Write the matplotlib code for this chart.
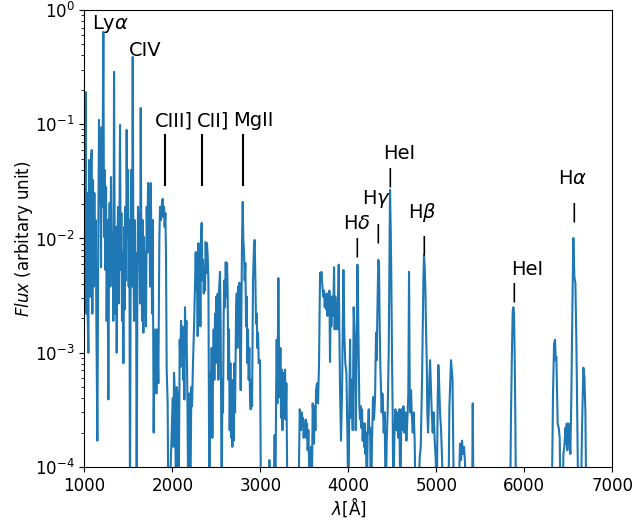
"""
plot.py

Emission-line spectrum on a log flux axis, with the main lines marked.
"""
import numpy as np
import matplotlib
matplotlib.use("Agg")
import matplotlib.pyplot as plt

# --- spectrum, split by wavelength range (Angstrom) ---
# 4e-5 marks points that drop below the bottom of the plot
wave_1 = [1000, 1008, 1016, 1023, 1031, 1038, 1046, 1053, 1061, 1069,
          1076, 1084, 1091, 1099, 1106, 1114, 1122, 1129, 1137, 1148,
          1159, 1167, 1175, 1182, 1190, 1197, 1205, 1216, 1224, 1231,
          1239, 1247, 1254, 1262, 1273, 1281, 1288, 1296, 1303, 1311,
          1319, 1330, 1338, 1345, 1353, 1360, 1368, 1375, 1383, 1391,
          1398, 1406, 1413, 1421, 1428, 1436, 1444, 1451, 1459, 1466,
          1474, 1481, 1489, 1497, 1504, 1512, 1519, 1527, 1534, 1542,
          1550, 1557, 1565, 1572, 1580, 1588, 1595, 1603, 1610, 1618,
          1625, 1633, 1641, 1648, 1656, 1663, 1671, 1678, 1686, 1694,
          1701, 1709, 1716, 1724, 1731, 1739, 1747, 1754, 1762, 1769,
          1777, 1788, 1796, 1807, 1819, 1830, 1841, 1853, 1860, 1872,
          1883, 1891, 1898, 1906, 1913, 1921, 1928, 1936, 1947, 1955,
          1966]
flux_1 = [0.0145, 0.0024, 0.191, 0.0022, 0.025, 0.0022, 0.0010, 0.0486, 0.0075, 0.0031,
          0.0486, 0.0595, 0.0022, 0.0325, 0.0038, 0.025, 0.005, 0.0145, 0.0019, 1.7e-4,
          0.0112, 0.109, 0.0205, 0.0773, 0.0056, 0.0946, 0.0189, 0.642, 0.0103, 0.0398,
          0.0053, 0.0282, 0.0019, 0.0145, 3.9e-4, 0.0075, 0.0205, 0.0038, 0.0345, 0.0053,
          0.0112, 0.0019, 0.287, 0.0075, 0.0022, 0.0126, 0.0010, 0.0075, 0.0189, 0.0027,
          0.0103, 0.0985, 0.0053, 0.0167, 0.0019, 0.0075, 8.1e-4, 0.0126, 0.0024, 0.0189,
          0.0043, 0.0891, 0.0103, 0.0398, 0.0038, 0.0145, 4e-5, 0.0075, 0.0398, 0.0038,
          0.388, 0.0103, 0.0019, 0.0145, 0.0027, 0.0075, 4e-5, 0.0038, 0.0189, 0.0075,
          0.0167, 0.0027, 0.139, 0.0075, 0.0019, 0.0145, 0.0015, 0.0103, 0.0027, 0.0075,
          0.0017, 0.0189, 0.0075, 0.0306, 0.0126, 0.0282, 0.0038, 0.0306, 0.0103, 0.0022,
          0.0145, 2.0e-4, 0.0010, 0.0016, 4.4e-4, 0.0016, 5.4e-4, 0.0103, 0.0189, 0.0145,
          0.0209, 0.0222, 0.0154, 0.0189, 0.0126, 0.0167, 0.0075, 7.1e-4, 3.6e-4, 4e-5,
          4e-5]

wave_2 = [2004, 2012, 2019, 2031, 2042, 2050, 2061, 2072, 2084, 2091,
          2099, 2107, 2114, 2122, 2129, 2137, 2144, 2152, 2160, 2171,
          2182, 2194, 2205, 2216, 2224, 2235, 2247, 2258, 2266, 2273,
          2281, 2288, 2296, 2304, 2311, 2319, 2326, 2334, 2341, 2349,
          2357, 2364, 2372, 2379, 2387, 2394, 2402, 2410, 2421, 2432,
          2440, 2447, 2455, 2463, 2470, 2478, 2485, 2493, 2500, 2508,
          2516, 2523, 2531, 2542, 2550, 2561, 2569, 2576, 2584, 2591,
          2599, 2607, 2614, 2622, 2629, 2637, 2644, 2652, 2660, 2667,
          2675, 2682, 2690, 2697, 2705, 2713, 2724, 2732, 2739, 2747,
          2754, 2762, 2769, 2777, 2785, 2792, 2800, 2807, 2815, 2822,
          2830, 2838, 2845, 2853, 2860, 2868, 2875, 2883, 2891, 2898,
          2906, 2917, 2928, 2936, 2944, 2951, 2959, 2966, 2974, 2982,
          2989, 2997]
flux_2 = [4.0e-4, 1.5e-4, 6.7e-4, 4.1e-4, 4e-5, 5.0e-4, 4.1e-4, 4e-5, 0.0013, 7.5e-4,
          0.0019, 0.0010, 0.0017, 5.8e-4, 0.0014, 3.9e-4, 0.0025, 0.0011, 0.0019, 4.4e-4,
          4e-5, 4.4e-4, 4e-5, 5.0e-4, 3.4e-4, 8.1e-4, 0.0017, 0.0043, 0.0076, 0.0035,
          0.0056, 0.0014, 0.0091, 0.0031, 0.0075, 0.0017, 0.0112, 0.0137, 0.0043, 0.0065,
          0.0033, 0.0053, 0.0035, 0.0093, 0.0050, 0.0091, 0.0069, 0.0043, 4e-5, 6.7e-4,
          3.0e-4, 0.0011, 1.8e-4, 7.5e-4, 0.0016, 5.8e-4, 0.0022, 8.1e-4, 0.0031, 0.0016,
          0.0033, 5.8e-4, 0.0035, 0.0051, 0.0016, 4e-5, 5.8e-4, 3.0e-4, 0.0022, 0.0043,
          0.0025, 0.0062, 0.0031, 0.0061, 0.0033, 5.8e-4, 0.0016, 2.1e-4, 8.1e-4, 1.8e-4,
          5.8e-4, 1.5e-4, 4.1e-4, 1.7e-4, 8.1e-4, 3.0e-4, 0.0022, 0.0033, 0.0011, 0.0038,
          0.0022, 0.0041, 0.0011, 4.7e-4, 0.0022, 0.0091, 0.0209, 0.0097, 0.0075, 0.0043,
          0.0061, 0.0017, 0.0031, 8.1e-4, 0.0016, 5.8e-4, 0.0011, 4.1e-4, 3.2e-4, 5.8e-4,
          3.4e-4, 0.0043, 0.0084, 0.0097, 0.0043, 0.0018, 0.0022, 0.0011, 0.0015, 8.1e-4,
          8.6e-4, 8.6e-4]

wave_3 = [3008, 3091, 3103, 3114, 3152, 3163, 3171, 3179, 3186, 3194,
          3205, 3213, 3220, 3228, 3235, 3243, 3251, 3258, 3266, 3273,
          3281, 3288, 3296, 3304, 3315, 3432, 3440, 3448, 3455, 3463,
          3470, 3478, 3485, 3493, 3501, 3508, 3516, 3523, 3531, 3538,
          3546, 3554, 3565, 3576, 3584, 3595, 3603, 3610, 3618, 3626,
          3633, 3644, 3656, 3667, 3679, 3686, 3694, 3701, 3709, 3716,
          3724, 3732, 3739, 3747, 3754, 3762, 3770, 3777, 3785, 3792,
          3800, 3807, 3815, 3823, 3830, 3838, 3845, 3853, 3860, 3868,
          3876, 3883, 3891, 3898, 3906, 3917, 3929, 3944, 3955, 3966,
          3978, 3989, 4001, 4012, 4020, 4027, 4038, 4050, 4061, 4073,
          4084, 4095]
flux_3 = [4e-5, 4e-5, 1.15e-4, 4e-5, 4e-5, 1.9e-4, 4e-5, 4.1e-4, 0.0013, 3.6e-4,
          0.0045, 9.2e-4, 4.1e-4, 0.0011, 2.7e-4, 7.1e-4, 2.1e-4, 4.1e-4, 6.7e-4, 2.7e-4,
          7.1e-4, 2.6e-4, 5.4e-4, 1.1e-4, 4e-5, 4e-5, 1.1e-4, 3.2e-4, 2.7e-4, 2.1e-4,
          3.0e-4, 2.4e-4, 2.7e-4, 1.8e-4, 2.4e-4, 2.1e-4, 2.6e-4, 1.8e-4, 2.4e-4, 1.4e-4,
          2.1e-4, 1.1e-4, 4e-5, 1.5e-4, 4e-5, 3.6e-4, 2.7e-4, 1.6e-4, 3.4e-4, 2.1e-4,
          4.7e-4, 5.4e-4, 3.6e-4, 8.1e-4, 0.0050, 0.0043, 0.0051, 0.0043, 0.0035, 0.0031,
          0.0035, 0.0025, 0.0031, 0.0024, 0.0033, 0.0021, 0.0031, 0.0024, 0.0035, 8.3e-4,
          0.0031, 0.0017, 0.0031, 0.0021, 0.0025, 0.0056, 0.0016, 0.0031, 0.0018, 0.0024,
          0.0016, 0.0031, 0.0059, 0.0016, 4.7e-4, 1.7e-4, 4.7e-4, 0.0053, 0.0014, 8.1e-4,
          6.7e-4, 2.1e-4, 4e-5, 4.1e-4, 0.0013, 2.7e-4, 5.8e-4, 2.1e-4, 0.0025, 0.0013,
          2.1e-4, 0.0012]

wave_4 = [4103, 4110, 4118, 4125, 4133, 4141, 4148, 4156, 4163, 4171,
          4179, 4186, 4194, 4201, 4209, 4220, 4232, 4239, 4247, 4258,
          4269, 4281, 4292, 4304, 4315, 4322, 4330, 4341, 4349, 4357,
          4364, 4372, 4379, 4387, 4394, 4402, 4413, 4425, 4436, 4447,
          4459, 4466, 4474, 4482, 4489, 4497, 4504, 4512, 4523, 4535,
          4546, 4557, 4569, 4580, 4591, 4603, 4614, 4626, 4637, 4648,
          4660, 4671, 4682, 4690, 4698, 4705, 4713, 4720, 4732, 4743,
          4754, 4766, 4796, 4811, 4823, 4838, 4845, 4853, 4860, 4868,
          4876, 4883, 4891, 4898, 4906, 4913, 4921, 4929, 4936, 4948,
          4959, 4970, 4982, 4993, 5004, 5016, 5023, 5031, 5042, 5054,
          5065, 5080, 5137, 5148, 5167, 5184, 5201, 5246, 5270, 5281,
          5292, 5304, 5315, 5326, 5338, 5406, 5414, 5423]
flux_4 = [0.0059, 0.0031, 0.0010, 3.4e-4, 2.6e-4, 3.4e-4, 2.2e-4, 3.2e-4, 1.7e-4, 2.4e-4,
          1.5e-4, 2.4e-4, 1.3e-4, 2.0e-4, 4e-5, 2.0e-4, 3.2e-4, 2.0e-4, 2.2e-4, 4e-5,
          1.7e-4, 4.1e-4, 2.6e-4, 4.1e-4, 0.0015, 8.6e-4, 0.0022, 0.0065, 0.0056, 0.0016,
          7.5e-4, 4.4e-4, 3.0e-4, 4.4e-4, 3.4e-4, 2.0e-4, 3.0e-4, 4e-5, 1.7e-4, 3.0e-4,
          0.0010, 0.0043, 0.0266, 0.0119, 0.0041, 8.6e-4, 3.0e-4, 4e-5, 1.8e-4, 3.2e-4,
          2.1e-4, 3.0e-4, 1.8e-4, 3.2e-4, 4e-5, 3.2e-4, 2.1e-4, 3.4e-4, 2.0e-4, 3.0e-4,
          1.7e-4, 2.6e-4, 4.4e-4, 0.0051, 4.4e-4, 3.0e-4, 4.7e-4, 3.0e-4, 2.0e-4, 3.0e-4,
          1.7e-4, 4e-5, 4e-5, 1.2e-4, 1.5e-4, 5.8e-4, 0.0016, 0.0043, 0.0072, 0.0056,
          0.0035, 0.0016, 8.6e-4, 3.0e-4, 2.0e-4, 3.0e-4, 5.8e-4, 8.6e-4, 5.8e-4, 3.0e-4,
          2.0e-4, 3.0e-4, 1.7e-4, 1.2e-4, 4e-5, 4.1e-4, 7.8e-4, 5.8e-4, 3.0e-4, 2.1e-4,
          1.2e-4, 4e-5, 4e-5, 3.2e-4, 8.6e-4, 5.8e-4, 4e-5, 4e-5, 1.6e-4, 1.15e-4,
          1.7e-4, 1.3e-4, 1.5e-4, 1.1e-4, 4e-5, 4e-5, 3.6e-4, 4e-5]

wave_5 = [5838, 5849, 5860, 5868, 5876, 5883, 5891, 5898, 5906, 6311,
          6326, 6338, 6349, 6357, 6364, 6372, 6379, 6391, 6402, 6413,
          6436, 6444, 6455, 6467, 6474, 6482, 6489, 6501, 6512, 6523,
          6535, 6546, 6557, 6569, 6580, 6592, 6603, 6614, 6641, 6656,
          6671, 6683, 6694, 6705]
flux_5 = [4e-5, 3.0e-4, 0.0011, 0.0023, 0.0025, 0.0022, 8.6e-4, 2.6e-4, 4e-5, 4e-5,
          4.4e-4, 0.0012, 0.0013, 8.6e-4, 9.2e-4, 4.4e-4, 2.4e-4, 2.2e-4, 1.8e-4, 4e-5,
          4e-5, 1.3e-4, 1.5e-4, 2.2e-4, 1.6e-4, 2.4e-4, 1.4e-4, 2.4e-4, 2.0e-4, 1.3e-4,
          4.4e-4, 0.0024, 0.0101, 0.0046, 0.0041, 0.0012, 2.2e-4, 4e-5, 4e-5, 2.2e-4,
          7.4e-4, 6.1e-4, 3.0e-4, 4e-5]

# --- line labels: text position (wavelength, flux) ---
label_names = ['Ly$\\alpha$', 'CIV', 'CIII]', 'CII]', 'MgII',
               'H$\\delta$', 'H$\\gamma$', 'HeI', 'H$\\beta$', 'HeI', 'H$\\alpha$']
label_wave = [1293, 1690, 2019, 2462, 2926, 4099, 4315, 4576, 4837, 6030, 6553]
label_flux = [0.76, 0.446, 0.107, 0.107, 0.107, 0.0134, 0.0222, 0.055, 0.0168, 0.0054, 0.0333]

# long markers under the UV labels
uv_marker_wave = [1915, 2335, 2802]
uv_marker_span = (0.0294, 0.0806)

# short "|" markers under the optical labels
opt_marker_wave = [4102, 4340, 4471, 4861, 5876, 6557]
opt_marker_flux = [0.0083, 0.0112, 0.0345, 0.0088, 0.0034, 0.0171]


def main():
    wave = np.concatenate([wave_1, wave_2, wave_3, wave_4, wave_5])
    flux = np.concatenate([flux_1, flux_2, flux_3, flux_4, flux_5])

    fig = plt.figure(figsize=(6.34, 5.22), dpi=100)
    ax = fig.add_axes([0.133, 0.1054, 0.8328, 0.8755])

    ax.plot(wave, flux, color='C0', lw=1.5)
    ax.set_yscale('log')
    ax.set_xlim(1000, 7000)
    ax.set_ylim(1e-4, 1)

    for name, x, y in zip(label_names, label_wave, label_flux):
        ax.text(x, y, name, fontsize=14, ha='center', va='center')

    for x in uv_marker_wave:
        ax.plot([x, x], uv_marker_span, color='k', lw=1.5)

    for x, y in zip(opt_marker_wave, opt_marker_flux):
        ax.text(x, y, '|', fontsize=14, ha='center', va='center')

    ax.tick_params(labelsize=12)
    ax.set_xlabel('$\\lambda$[Å]', fontsize=12, labelpad=0.5)
    ax.set_ylabel('$Flux$ (arbitary unit)', fontsize=12, labelpad=0)

    fig.savefig('out.png', dpi=100)


if __name__ == "__main__":
    main()
